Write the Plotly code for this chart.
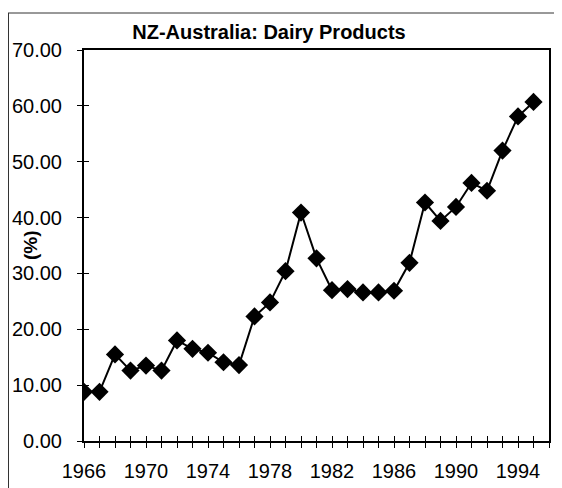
import plotly.graph_objects as go

years = list(range(1966, 1996))
values = [8.8, 8.8, 15.5, 12.6, 13.5, 12.6, 18.0, 16.5, 15.8, 14.1,
          13.6, 22.3, 24.8, 30.4, 40.9, 32.7, 27.0, 27.2, 26.6, 26.6,
          26.9, 31.9, 42.7, 39.4, 41.9, 46.2, 44.8, 52.0, 58.1, 60.7]
tick_years = list(range(1966, 1997))
tick_labels = [str(y) if (y - 1966) % 4 == 0 and y <= 1994 else "" for y in tick_years]
y_ticks = [0, 10, 20, 30, 40, 50, 60, 70]
y_labels = ["%.2f" % v for v in y_ticks]

# page body has an 8px margin; lay out in window pixel terms
OFF = 8
PL, PR, PT, PB = 84, 549, 50, 441   # plot area in window px
PW, PH = PR - PL, PB - PT


def px(wx):
    return (wx - PL) / PW


def py(wy):
    return (PB - wy) / PH


fig = go.Figure()
fig.add_trace(go.Scatter(
    x=years, y=values, mode="lines+markers",
    line=dict(color="black", width=2),
    marker=dict(symbol="diamond", size=14, color="black"),
    showlegend=False,
))
fig.add_trace(go.Scatter(x=years, y=values, xaxis="x2", yaxis="y2",
                         mode="markers", marker=dict(opacity=0), showlegend=False,
                         hoverinfo="skip"))

font = "Liberation Sans, Arial, sans-serif"
fig.update_layout(
    width=562 - OFF, height=488 - OFF,
    margin=dict(l=PL - OFF, r=562 - PR, t=PT - OFF, b=488 - PB, autoexpand=False),
    paper_bgcolor="white", plot_bgcolor="white",
    title=dict(text="<b>NZ-Australia: Dairy Products</b>", x=(269 - OFF) / (562 - OFF),
               xanchor="center", y=1 - (32 - OFF) / (488 - OFF), yanchor="middle",
               font=dict(family=font, size=20, color="black")),
    xaxis=dict(range=[1966, 1996], tickmode="array", tickvals=tick_years,
               ticktext=tick_labels, ticks="outside", ticklen=5, tickwidth=1,
               tickcolor="black", showline=True, linecolor="black", linewidth=2,
               mirror=True, showgrid=False, zeroline=False, automargin=False,
               ticklabelstandoff=6,
               tickfont=dict(family=font, size=20, color="black")),
    yaxis=dict(range=[0, 70], tickmode="array", tickvals=y_ticks, ticktext=y_labels,
               ticks="outside", ticklen=5, tickwidth=1, tickcolor="black",
               showline=True, linecolor="black", linewidth=2, mirror=True,
               showgrid=False, zeroline=False, automargin=False,
               ticklabelstandoff=11,
               tickfont=dict(family=font, size=20, color="black")),
    xaxis2=dict(overlaying="x", matches="x", tickmode="array", tickvals=tick_years,
                ticks="inside", ticklen=5, tickwidth=1, tickcolor="black",
                showticklabels=False, showgrid=False, zeroline=False, showline=False),
    yaxis2=dict(overlaying="y", matches="y", tickmode="array", tickvals=y_ticks,
                ticks="inside", ticklen=5, tickwidth=1, tickcolor="black",
                showticklabels=False, showgrid=False, zeroline=False, showline=False),
    annotations=[dict(text="<b>(%)</b>", textangle=-90, xref="paper", yref="paper",
                      x=px(30), y=py(245), showarrow=False,
                      xanchor="center", yanchor="middle",
                      font=dict(family=font, size=19, color="black"))],
    shapes=[
        dict(type="line", xref="paper", yref="paper", x0=px(OFF), x1=px(562),
             y0=py(13), y1=py(13), line=dict(color="#333", width=1)),
        dict(type="line", xref="paper", yref="paper", x0=px(OFF + 0.5), x1=px(OFF + 0.5),
             y0=py(13), y1=py(488), line=dict(color="#333", width=1)),
    ],
)
fig.write_html("out.html")
